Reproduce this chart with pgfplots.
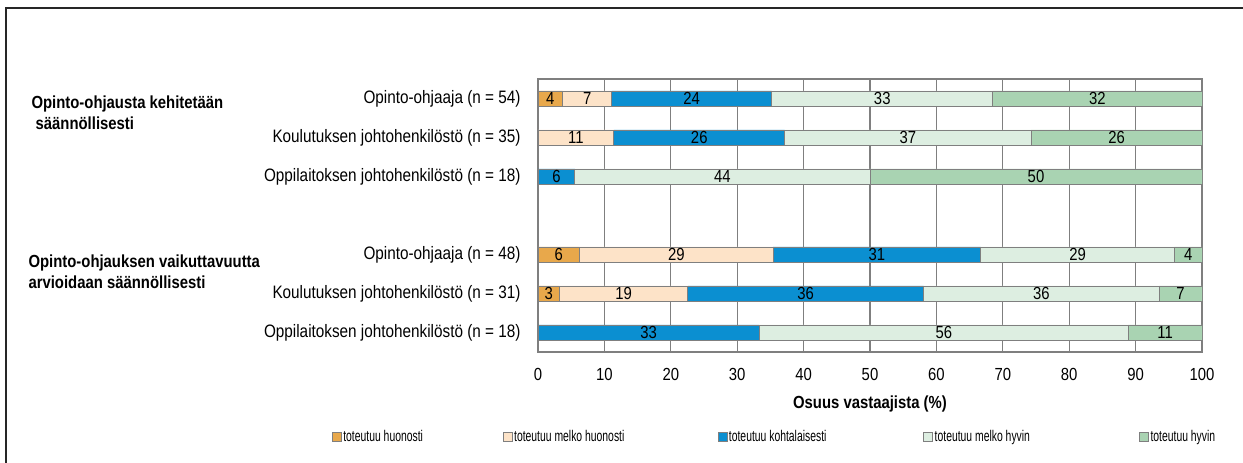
\documentclass[border=0pt]{standalone}
\usepackage{fontspec}
\setmainfont[FakeStretch=0.85]{Liberation Sans}
\newfontfamily\legfont[FakeStretch=0.67]{Liberation Sans}
\usepackage{pgfplots}
\pgfplotsset{compat=1.18}
\usepackage{pgfplotstable}
\definecolor{cA}{HTML}{E8A84B}
\definecolor{cB}{HTML}{FDE3C8}
\definecolor{cC}{HTML}{0B8FD1}
\definecolor{cD}{HTML}{DDEEE1}
\definecolor{cE}{HTML}{A9D3B2}
\definecolor{gridg}{HTML}{7F7F7F}
% rows: y, five shares (percent), then the printed labels
\pgfplotstableread{
y  a     b     c     d     e     la  lb  lc  ld  le
6  3.70  7.41  24.07 33.33 31.49 4   7   24  33  32
5  0     11.43 25.71 37.14 25.72 {}  11  26  37  26
4  0     0     5.56  44.44 50.00 {}  {}  6   44  50
2  6.25  29.17 31.25 29.17 4.16  6   29  31  29  4
1  3.23  19.35 35.48 35.48 6.46  3   19  36  36  7
0  0     0     33.33 55.56 11.11 {}  {}  33  56  11
}\datatable
\begin{document}
\begin{tikzpicture}[x=1pt,y=1pt]
\useasboundingbox (0,0) rectangle (1243,463);
\draw[line width=1.5pt, black!85] (6,0) -- (6,455) -- (1243,455);
\node[anchor=west, align=left, font=\fontsize{17.5}{21}\selectfont\bfseries] at (28,350) {Opinto-ohjausta kehitetään\\\ säännöllisesti};
\node[anchor=west, align=left, font=\fontsize{17.5}{21}\selectfont\bfseries] at (25,191.5) {Opinto-ohjauksen vaikuttavuutta\\arvioidaan säännöllisesti};
\begin{axis}[
  at={(538pt,111pt)}, anchor=south west,
  scale only axis, width=664pt, height=273pt,
  xbar stacked, bar width=15pt,
  xmin=0, xmax=100, ymin=-0.5, ymax=6.5,
  xtick={0,10,...,100},
  ytick={0,1,2,4,5,6},
  yticklabels={Oppilaitoksen johtohenkilöstö (n = 18),Koulutuksen johtohenkilöstö (n = 31),Opinto-ohjaaja (n = 48),Oppilaitoksen johtohenkilöstö (n = 18),Koulutuksen johtohenkilöstö (n = 35),Opinto-ohjaaja (n = 54)},
  /pgf/number format/assume math mode=true,
  xticklabel style={font=\fontsize{17.5}{18}\selectfont, yshift=-13pt},
  yticklabel style={font=\fontsize{18}{18}\selectfont, xshift=-14pt},
  major tick length=0pt,
  xmajorgrids, grid style={gridg, line width=1.2pt},
  axis line style={gridg, line width=1.2pt},
  xlabel={\bfseries Osuus vastaajista (\%)},
  xlabel style={font=\fontsize{17.5}{18}\selectfont, at={(axis description cs:0.5,-0.19)}, anchor=center},
  every axis plot/.append style={draw=gridg, line width=0.9pt},
  nodes near coords,
  point meta=explicit symbolic,
  nodes near coords style={anchor=center, font=\fontsize{17.5}{17.5}\selectfont, text=black, inner sep=0pt},
  legend columns=5,
  legend style={at={(0.360,-0.311)}, anchor=center, draw=none, fill=none,
    font=\legfont\fontsize{15.5}{17}\selectfont, column sep=0pt,
    nodes={inner sep=1.5pt}},
  legend image code/.code={\draw[#1, line width=0.8pt] (0pt,-4.5pt) rectangle (9pt,4.5pt);},
]
\addplot[fill=cA] table[x=a, y=y, meta=la] {\datatable};
\addplot[fill=cB] table[x=b, y=y, meta=lb] {\datatable};
\addplot[fill=cC] table[x=c, y=y, meta=lc] {\datatable};
\addplot[fill=cD] table[x=d, y=y, meta=ld] {\datatable};
\addplot[fill=cE] table[x=e, y=y, meta=le] {\datatable};
\legend{\makebox[158pt][l]{toteutuu huonosti},\makebox[202pt][l]{toteutuu melko huonosti},\makebox[193pt][l]{toteutuu kohtalaisesti},\makebox[203pt][l]{toteutuu melko hyvin},\makebox[70pt][l]{toteutuu hyvin}}
\end{axis}
\end{tikzpicture}
\end{document}
